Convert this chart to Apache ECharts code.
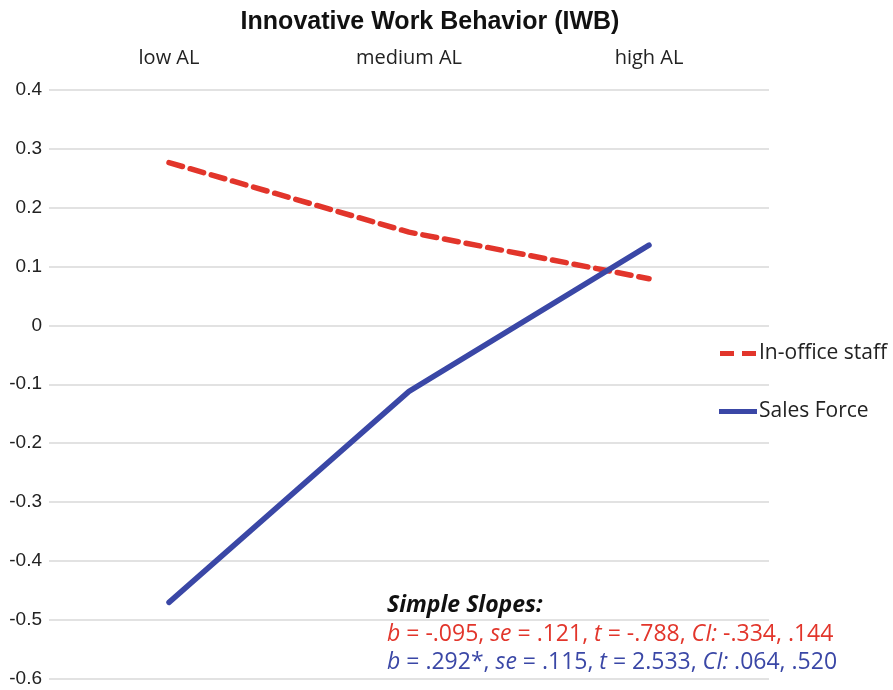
<!DOCTYPE html>
<html><head><meta charset="utf-8">
<script src="https://cdn.jsdelivr.net/npm/echarts@6/dist/echarts.min.js"></script>
<style>html,body{margin:0;padding:0;background:#fff}#c{width:893px;height:690px}</style>
</head><body><div id="c"></div>
<script>
var categories = ['low AL', 'medium AL', 'high AL'];
var inOffice = [0.276, 0.158, 0.079];
var salesForce = [-0.470, -0.112, 0.136];
var yTicks = [-0.6, -0.5, -0.4, -0.3, -0.2, -0.1, 0, 0.1, 0.2, 0.3, 0.4];
var titleText = 'Innovative Work Behavior (IWB)';
var slopesHeader = 'Simple Slopes:';
var slopeRed = '{i|b} = -.095, {i|se} = .121, {i|t} = -.788, {i|CI:} -.334, .144';
var slopeBlue = '{i|b} = .292*, {i|se} = .115, {i|t} = 2.533, {i|CI:} .064, .520';

var chart = echarts.init(document.getElementById('c'));
var red = '#e2352b', blue = '#3a47a6';
chart.setOption({
  animation: false,
  title: {text: titleText, left: 425, top: 5, textAlign: 'center',
    textStyle: {fontFamily: 'Liberation Sans', fontWeight: 'bold', fontSize: 25, color: '#111'}},
  grid: {left: 49, right: 124, top: 89.5, bottom: 11, containLabel: false},
  xAxis: {type: 'category', position: 'top', data: categories, boundaryGap: true,
    axisLine: {show: false}, axisTick: {show: false},
    axisLabel: {fontFamily: 'Open Sans', fontSize: 20, color: '#222', margin: 21}},
  yAxis: {type: 'value', min: -0.6, max: 0.4, interval: 0.1,
    axisLine: {show: false}, axisTick: {show: false},
    splitLine: {lineStyle: {color: '#d9d9d9', width: 1.5}},
    axisLabel: {fontFamily: 'Liberation Sans', fontSize: 19, color: '#222', margin: 7,
      formatter: function(v){ var r = Math.round(v*10)/10; return r === 0 ? '0' : String(r); }}},
  legend: {orient: 'vertical', left: 714, top: 338, itemGap: 37, itemWidth: 38, itemHeight: 5,
    textStyle: {fontFamily: 'Open Sans', fontSize: 21, color: '#222', padding: [0,0,0,-3]},
    data: [
      {name: 'In-office staff', icon: 'path://M0,0h14v5h-14zM22,0h14v5h-14z'},
      {name: 'Sales Force', icon: 'rect'}
    ]},
  series: [
    {name: 'In-office staff', type: 'line', data: inOffice, symbol: 'none',
      lineStyle: {color: red, width: 5.5, type: [14, 8], cap: 'round'}, itemStyle: {color: red}},
    {name: 'Sales Force', type: 'line', data: salesForce, symbol: 'none',
      lineStyle: {color: blue, width: 5.5, cap: 'round', join: 'round'}, itemStyle: {color: blue}}
  ],
  graphic: [
    {type: 'text', x: 387, y: 605, style: {text: slopesHeader, verticalAlign: 'middle',
      font: 'italic bold 23px "Open Sans"', fill: '#111'}},
    {type: 'text', x: 387, y: 634, style: {text: slopeRed, verticalAlign: 'middle',
      font: '23px "Open Sans"', fill: red,
      rich: {i: {fontStyle: 'italic', fontFamily: 'Open Sans', fontSize: 23, fill: red}}}},
    {type: 'text', x: 387, y: 662, style: {text: slopeBlue, verticalAlign: 'middle',
      font: '23px "Open Sans"', fill: blue,
      rich: {i: {fontStyle: 'italic', fontFamily: 'Open Sans', fontSize: 23, fill: blue}}}}
  ]
});
</script></body></html>
